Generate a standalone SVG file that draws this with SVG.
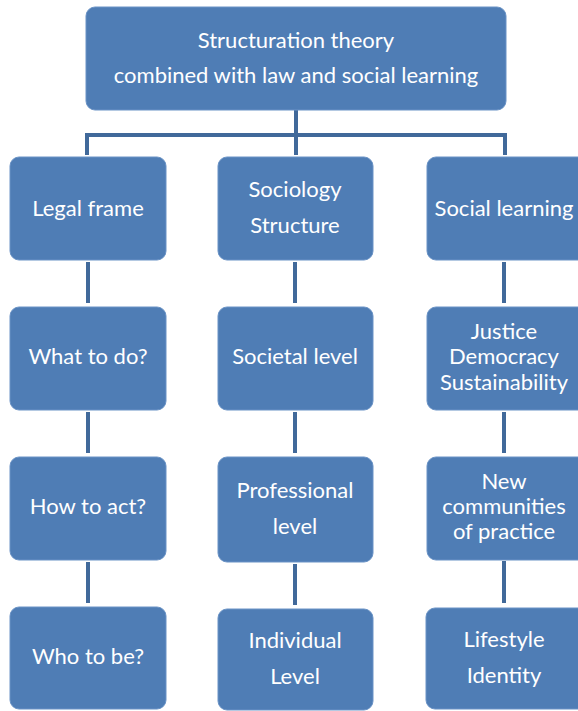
<svg xmlns="http://www.w3.org/2000/svg" width="578" height="711" viewBox="0 0 578 711">
<style>
.box{fill:#4f7db5;stroke:#6a93c6;stroke-width:1}
.t{font-family:Lato,"Liberation Sans",sans-serif;font-size:22px;fill:#ffffff;text-anchor:middle}
.c{stroke:#41699a;stroke-width:4;fill:none}
</style>
<rect width="578" height="711" fill="#ffffff"/>
<g id="connectors">
<path class="c" d="M296 110V135M87 135H505M87 133V155M296 133V155M505 133V155"/>
<path class="c" d="M88 262V303M88 412V453M88 562V603"/>
<path class="c" d="M295 262V303M295 412V453M295 564V605"/>
<path class="c" d="M504 262V303M504 412V453M504 561V603"/>
</g>
<g id="root"><rect class="box" x="86" y="7" width="420" height="103" rx="9"/>
<text class="t" x="296" y="48">Structuration theory</text>
<text class="t" x="296" y="83">combined with law and social learning</text></g>
<g id="legal"><rect class="box" x="10" y="157" width="156" height="103" rx="9"/><text class="t" x="88" y="216">Legal frame</text></g>
<g id="sociology"><rect class="box" x="218" y="157" width="155" height="103" rx="9"/><text class="t" x="295" y="197">Sociology</text><text class="t" x="295" y="233">Structure</text></g>
<g id="social"><rect class="box" x="427" y="157" width="160" height="103" rx="9"/><text class="t" x="504" y="216">Social learning</text></g>
<g id="what"><rect class="box" x="10" y="307" width="156" height="103" rx="9"/><text class="t" x="88" y="364">What to do?</text></g>
<g id="societal"><rect class="box" x="218" y="307" width="155" height="103" rx="9"/><text class="t" x="295" y="364">Societal level</text></g>
<g id="justice"><rect class="box" x="427" y="307" width="160" height="103" rx="9"/><text class="t" x="504" y="339">Justice</text><text class="t" x="504" y="364">Democracy</text><text class="t" x="504" y="390">Sustainability</text></g>
<g id="how"><rect class="box" x="10" y="457" width="156" height="103" rx="9"/><text class="t" x="88" y="514">How to act?</text></g>
<g id="professional"><rect class="box" x="218" y="457" width="155" height="105" rx="9"/><text class="t" x="295" y="498">Professional</text><text class="t" x="295" y="534">level</text></g>
<g id="communities"><rect class="box" x="427" y="457" width="160" height="103" rx="9"/><text class="t" x="504" y="489">New</text><text class="t" x="504" y="514">communities</text><text class="t" x="504" y="539">of practice</text></g>
<g id="who"><rect class="box" x="10" y="607" width="156" height="102" rx="9"/><text class="t" x="88" y="664">Who to be?</text></g>
<g id="individual"><rect class="box" x="218" y="609" width="155" height="101" rx="9"/><text class="t" x="295" y="648">Individual</text><text class="t" x="295" y="684">Level</text></g>
<g id="lifestyle"><rect class="box" x="426" y="608" width="161" height="101" rx="9"/><text class="t" x="504" y="647">Lifestyle</text><text class="t" x="504" y="683">Identity</text></g>
</svg>
